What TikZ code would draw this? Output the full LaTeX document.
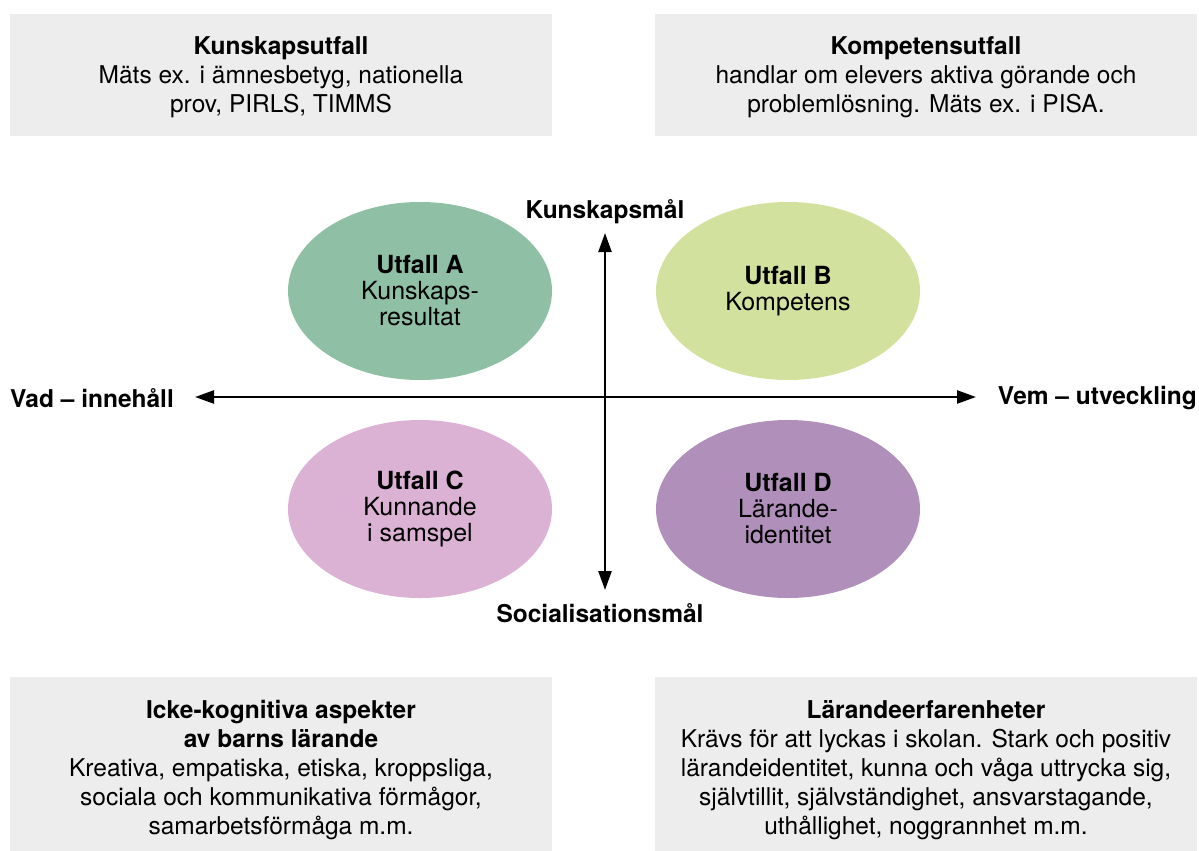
\documentclass[tikz,border=0pt]{standalone}
\usepackage{fontspec}
\setmainfont{TeX Gyre Heros}
\usetikzlibrary{arrows.meta}
\definecolor{boxgray}{HTML}{EDEDED}
\definecolor{ellA}{HTML}{8FC0A6}
\definecolor{ellB}{HTML}{D2E19D}
\definecolor{ellC}{HTML}{DBB1D4}
\definecolor{ellD}{HTML}{B08FBA}
\tikzset{
  infobox/.style={fill=boxgray, draw=none},
  infotext/.style={align=center, font=\fontsize{24.5}{29}\selectfont, inner sep=0pt},
  ell/.style={ellipse, minimum width=264pt, minimum height=178pt, draw=none, align=center,
    font=\fontsize{25}{26}\selectfont, inner sep=0pt},
  axislabel/.style={font=\fontsize{24.5}{26}\selectfont\bfseries, inner sep=0pt},
  axis/.style={line width=2.4pt, {Triangle[length=19pt,width=13pt]}-{Triangle[length=19pt,width=13pt]}}
}
\usetikzlibrary{shapes.geometric}
\begin{document}
\begin{tikzpicture}[x=1pt,y=-1pt]
\useasboundingbox[fill=white] (0,0) rectangle (1199,851);
% boxes
\fill[infobox] (10,14) rectangle (552,136);
\fill[infobox] (655,14) rectangle (1197,136);
\fill[infobox] (10,677) rectangle (552,851);
\fill[infobox] (655,677) rectangle (1197,851);
\node[infotext] (tl) at (281,77.5) {\textbf{Kunskapsutfall}\\Mäts ex. i ämnesbetyg, nationella\\prov, PIRLS, TIMMS};
\node[infotext] (tr) at (926,77.5) {\textbf{Kompetensutfall}\\handlar om elevers aktiva görande och\\problemlösning. Mäts ex. i PISA.};
\node[infotext] (bl) at (281,770.5) {\textbf{Icke-kognitiva aspekter}\\\textbf{av barns lärande}\\Kreativa, empatiska, etiska, kroppsliga,\\sociala och kommunikativa förmågor,\\samarbetsförmåga m.m.};
\node[infotext] (br) at (926,770.5) {\textbf{Lärandeerfarenheter}\\Krävs för att lyckas i skolan. Stark och positiv\\lärandeidentitet, kunna och våga uttrycka sig,\\självtillit, självständighet, ansvarstagande,\\uthållighet, noggrannhet m.m.};
% ellipses
\node[ell, fill=ellA] (A) at (420,291) {\textbf{Utfall A}\\Kunskaps-\\resultat};
\node[ell, fill=ellB] (B) at (788,291) {\textbf{Utfall B}\\Kompetens};
\node[ell, fill=ellC] (C) at (420,509) {\textbf{Utfall C}\\Kunnande\\i samspel};
\node[ell, fill=ellD] (D) at (788,509) {\textbf{Utfall D}\\Lärande-\\identitet};
% axes
\coordinate (left) at (195,397);
\coordinate (right) at (976,397);
\coordinate (top) at (605,233);
\coordinate (bottom) at (605,590);
\draw[axis] (left) -- (right);
\draw[axis] (top) -- (bottom);
\node[axislabel] (ltop) at (605,211.5) {Kunskapsmål};
\node[axislabel] (lbot) at (600,613) {Socialisationsmål};
\node[axislabel, anchor=west] (lleft) at (10,398) {Vad – innehåll};
\node[axislabel, anchor=east] (lright) at (1197,398) {Vem – utveckling};
\end{tikzpicture}
\end{document}
